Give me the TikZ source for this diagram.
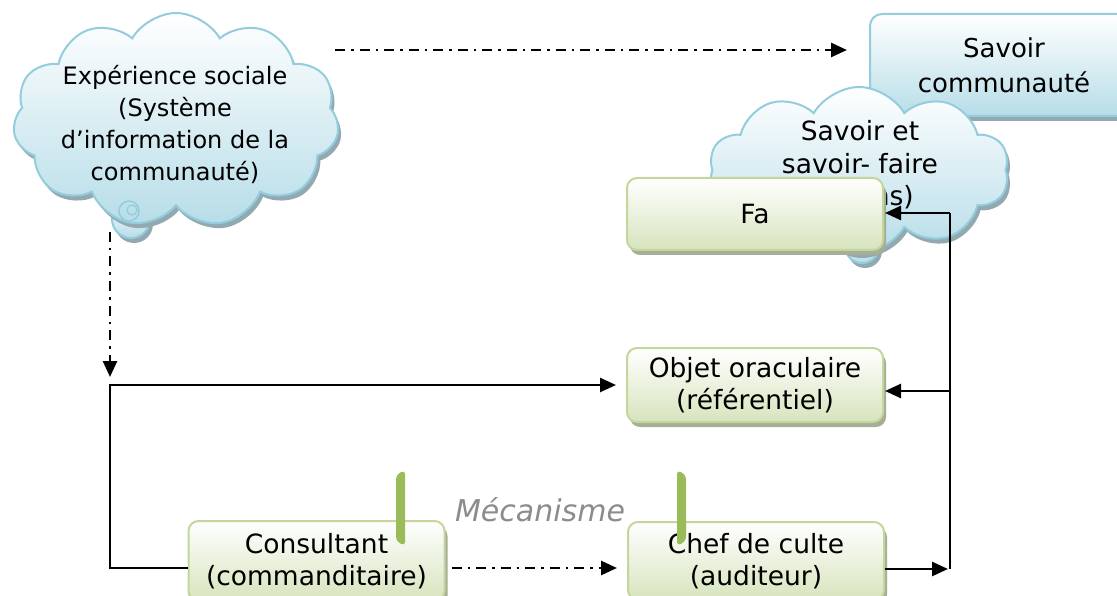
\documentclass[tikz,border=0pt]{standalone}
\usepackage{fontspec}
\setmainfont{DejaVu Sans}
\usetikzlibrary{shapes.symbols,shadows,arrows.meta}
\definecolor{bluebd}{HTML}{93CDDD}
\definecolor{bluefill}{HTML}{B7DDE8}
\definecolor{greenbd}{HTML}{C3D69B}
\definecolor{greenfill}{HTML}{D7E4BD}
\definecolor{brk}{HTML}{9BBB59}
\definecolor{gshadow}{HTML}{A6AE98}
\definecolor{bshadow}{HTML}{93A9B2}
\definecolor{mecagray}{HTML}{8C8C8C}
\begin{document}
\begin{tikzpicture}[x=1pt,y=-1pt,
  greenbox/.style={draw=greenbd, line width=2pt, rounded corners=10pt,
    top color=white, bottom color=greenfill, minimum width=256pt,
    minimum height=74pt, align=center, inner sep=0pt,
    font=\fontsize{26.5}{32.5}\selectfont,
    drop shadow={shadow xshift=3pt, shadow yshift=-5pt, fill=gshadow, opacity=1}},
  bluebox/.style={draw=bluebd, line width=2pt, rounded corners=12pt,
    top color=white, bottom color=bluefill, align=center, inner sep=0pt,
    font=\fontsize{26}{35}\selectfont,
    drop shadow={shadow xshift=3pt, shadow yshift=-5pt, fill=bshadow, opacity=1}},
  bluecloud/.style={cloud, draw=bluebd, line width=2pt, top color=white,
    bottom color=bluefill, inner sep=0pt, cloud puff arc=120,
    drop shadow={shadow xshift=3pt, shadow yshift=-5pt, fill=bshadow, opacity=1}},
  bubble/.style={circle, draw=bluebd, line width=2pt, top color=white,
    bottom color=bluefill, inner sep=0pt,
    drop shadow={shadow xshift=3pt, shadow yshift=-5pt, fill=bshadow, opacity=1}},
  ctext/.style={align=center, inner sep=0pt},
  conn/.style={line width=2.6pt, black},
  arr/.style={-{Triangle[length=16pt,width=14pt]}},
  dashdot/.style={conn, dash pattern=on 10pt off 6pt on 2.5pt off 6pt},
  bracket/.style={fill=brk, rounded corners=4pt}
]
\clip (0,0) rectangle (1117,596);
\fill[white] (0,0) rectangle (1117,596);

% blue box
\node[bluebox, minimum width=268pt, minimum height=102pt] (savoir) at (1004,65) {Savoir\\communauté};

% left cloud
\node[bubble, minimum size=38pt] (bubL) at (131,219) {};
\node[bluecloud, cloud puffs=11, minimum width=326pt, minimum height=214pt] (cloudL) at (176,120) {};
\node[circle, draw=bluebd, line width=1.5pt, minimum size=20pt, inner sep=0pt] (spirA) at (129,211) {};
\node[circle, draw=bluebd, line width=1.2pt, minimum size=10pt, inner sep=0pt] (spirB) at (132,210) {};
\node[ctext, font=\fontsize{24}{32}\selectfont] (cloudLtext) at (175,124)
  {Expérience sociale\\(Système\\d’information de la\\communauté)};

% right cloud
\node[bubble, minimum size=34pt] (bubR) at (862,246) {};
\node[bluecloud, cloud puffs=10, minimum width=300pt, minimum height=166pt] (cloudR) at (859,170) {};
\node[ctext, font=\fontsize{26.5}{32.5}\selectfont] (cloudRtext) at (860,165)
  {Savoir et\\savoir- faire\\(devins)};

% green boxes
\node[greenbox, minimum height=72pt] (fa) at (755,214) {Fa};
\node[greenbox] (objet) at (755,385) {Objet oraculaire\\(référentiel)};
\node[greenbox, minimum height=80pt] (consult) at (316.5,561) {Consultant\\(commanditaire)};
\node[greenbox, minimum height=78pt] (chef) at (756,561) {Chef de culte\\(auditeur)};

% mecanisme
\node[font=\fontsize{30}{36}\selectfont\itshape, text=mecagray, inner sep=0pt] (meca) at (540,510) {Mécanisme};
\path[bracket] (405,470) -- (405,546) -- (396,541) -- (396,475) -- cycle;
\path[bracket] (677,470) -- (677,546) -- (686,541) -- (686,475) -- cycle;

% connectors
\coordinate (tA) at (335,50);
\draw[dashdot, arr, shorten >=22pt] (tA) -- (savoir.west |- tA);
\coordinate (dA) at (110,232);
\coordinate (dB) at (110,377);
\draw[dashdot, arr] (dA) -- (dB);

\coordinate (L1) at (110,385);
\coordinate (L2) at (110,568);
\draw[conn, arr, shorten >=10pt] (consult.west |- L2) -- (L2) -- (L1) -- (objet.west |- L1);
\draw[dashdot, arr, shorten <=6pt, shorten >=10pt] (consult.east |- L2) -- (chef.west |- L2);

\coordinate (R1) at (950,569);
\coordinate (R2) at (950,213);
\coordinate (R3) at (950,391);
\draw[conn, arr, shorten >=2pt] (chef.east |- R1) -- (R1);
\draw[conn] (R1) -- (R2);
\draw[conn, arr, shorten >=1pt] (R2) -- (fa.east |- R2);
\draw[conn, arr, shorten >=1pt] (R3) -- (objet.east |- R3);
\end{tikzpicture}
\end{document}
